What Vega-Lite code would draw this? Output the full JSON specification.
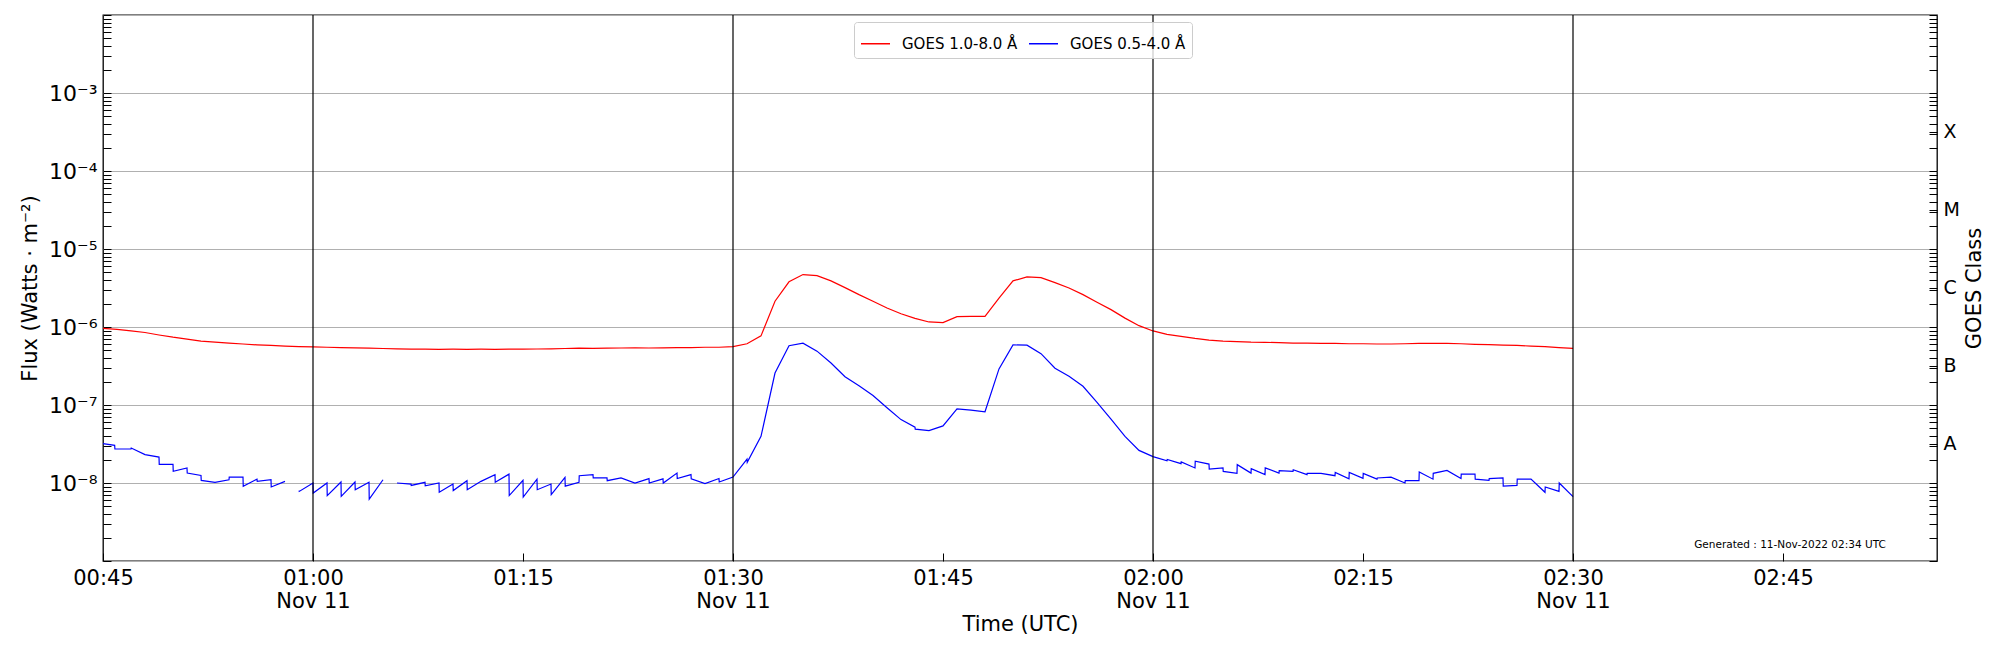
{
  "$schema": "https://vega.github.io/schema/vega-lite/v6.json",
  "width": 1834,
  "height": 546,
  "autosize": {"type": "none"},
  "padding": {"left": 103, "top": 15, "right": 63, "bottom": 89},
  "background": "white",
  "config": {
    "font": "DejaVu Sans",
    "view": {"stroke": "#000000", "strokeWidth": 1.3},
    "axis": {
      "domain": false,
      "grid": false,
      "tickColor": "#000000",
      "tickSize": -8,
      "tickWidth": 1,
      "labelPadding": 14,
      "labelColor": "#000000",
      "labelFont": "DejaVu Sans",
      "labelFontSize": 21,
      "titleColor": "#000000",
      "titleFont": "DejaVu Sans",
      "titleFontSize": 21,
      "titleFontWeight": "normal"
    }
  },
  "datasets": {
    "xrsb": [
      {"t": "00:45:00", "f": 9.6e-7}, {"t": "00:46:00", "f": 9.3e-7}, {"t": "00:47:00", "f": 8.9e-7},
      {"t": "00:48:00", "f": 8.5e-7}, {"t": "00:49:00", "f": 7.9e-7}, {"t": "00:50:00", "f": 7.4e-7},
      {"t": "00:51:00", "f": 7.0e-7}, {"t": "00:52:00", "f": 6.6e-7}, {"t": "00:53:00", "f": 6.4e-7},
      {"t": "00:54:00", "f": 6.2e-7}, {"t": "00:55:00", "f": 6.05e-7}, {"t": "00:56:00", "f": 5.9e-7},
      {"t": "00:57:00", "f": 5.8e-7}, {"t": "00:58:00", "f": 5.7e-7}, {"t": "00:59:00", "f": 5.6e-7},
      {"t": "01:00:00", "f": 5.55e-7}, {"t": "01:01:00", "f": 5.5e-7}, {"t": "01:02:00", "f": 5.45e-7},
      {"t": "01:03:00", "f": 5.4e-7}, {"t": "01:04:00", "f": 5.35e-7}, {"t": "01:05:00", "f": 5.3e-7},
      {"t": "01:06:00", "f": 5.25e-7}, {"t": "01:07:00", "f": 5.2e-7}, {"t": "01:08:00", "f": 5.2e-7},
      {"t": "01:09:00", "f": 5.18e-7}, {"t": "01:10:00", "f": 5.2e-7}, {"t": "01:11:00", "f": 5.18e-7},
      {"t": "01:12:00", "f": 5.2e-7}, {"t": "01:13:00", "f": 5.18e-7}, {"t": "01:14:00", "f": 5.2e-7},
      {"t": "01:15:00", "f": 5.2e-7}, {"t": "01:16:00", "f": 5.22e-7}, {"t": "01:17:00", "f": 5.25e-7},
      {"t": "01:18:00", "f": 5.3e-7}, {"t": "01:19:00", "f": 5.35e-7}, {"t": "01:20:00", "f": 5.33e-7},
      {"t": "01:21:00", "f": 5.35e-7}, {"t": "01:22:00", "f": 5.38e-7}, {"t": "01:23:00", "f": 5.4e-7},
      {"t": "01:24:00", "f": 5.38e-7}, {"t": "01:25:00", "f": 5.4e-7}, {"t": "01:26:00", "f": 5.43e-7},
      {"t": "01:27:00", "f": 5.45e-7}, {"t": "01:28:00", "f": 5.5e-7}, {"t": "01:29:00", "f": 5.5e-7},
      {"t": "01:30:00", "f": 5.6e-7}, {"t": "01:31:00", "f": 6.1e-7}, {"t": "01:32:00", "f": 7.7e-7},
      {"t": "01:33:00", "f": 2.14e-6}, {"t": "01:34:00", "f": 3.8e-6}, {"t": "01:35:00", "f": 4.7e-6},
      {"t": "01:36:00", "f": 4.55e-6}, {"t": "01:37:00", "f": 3.9e-6}, {"t": "01:38:00", "f": 3.2e-6},
      {"t": "01:39:00", "f": 2.6e-6}, {"t": "01:40:00", "f": 2.14e-6}, {"t": "01:41:00", "f": 1.75e-6},
      {"t": "01:42:00", "f": 1.48e-6}, {"t": "01:43:00", "f": 1.29e-6}, {"t": "01:44:00", "f": 1.16e-6},
      {"t": "01:45:00", "f": 1.14e-6}, {"t": "01:46:00", "f": 1.36e-6}, {"t": "01:47:00", "f": 1.37e-6},
      {"t": "01:48:00", "f": 1.37e-6}, {"t": "01:49:00", "f": 2.35e-6}, {"t": "01:50:00", "f": 3.9e-6},
      {"t": "01:51:00", "f": 4.4e-6}, {"t": "01:52:00", "f": 4.3e-6}, {"t": "01:53:00", "f": 3.7e-6},
      {"t": "01:54:00", "f": 3.16e-6}, {"t": "01:55:00", "f": 2.6e-6}, {"t": "01:56:00", "f": 2.08e-6},
      {"t": "01:57:00", "f": 1.67e-6}, {"t": "01:58:00", "f": 1.3e-6}, {"t": "01:59:00", "f": 1.04e-6},
      {"t": "02:00:00", "f": 8.9e-7}, {"t": "02:01:00", "f": 8.05e-7}, {"t": "02:02:00", "f": 7.6e-7},
      {"t": "02:03:00", "f": 7.15e-7}, {"t": "02:04:00", "f": 6.8e-7}, {"t": "02:05:00", "f": 6.6e-7},
      {"t": "02:06:00", "f": 6.5e-7}, {"t": "02:07:00", "f": 6.4e-7}, {"t": "02:08:00", "f": 6.36e-7},
      {"t": "02:09:00", "f": 6.3e-7}, {"t": "02:10:00", "f": 6.2e-7}, {"t": "02:11:00", "f": 6.2e-7},
      {"t": "02:12:00", "f": 6.17e-7}, {"t": "02:13:00", "f": 6.15e-7}, {"t": "02:14:00", "f": 6.1e-7},
      {"t": "02:15:00", "f": 6.1e-7}, {"t": "02:16:00", "f": 6.05e-7}, {"t": "02:17:00", "f": 6.05e-7},
      {"t": "02:18:00", "f": 6.1e-7}, {"t": "02:19:00", "f": 6.15e-7}, {"t": "02:20:00", "f": 6.17e-7},
      {"t": "02:21:00", "f": 6.15e-7}, {"t": "02:22:00", "f": 6.1e-7}, {"t": "02:23:00", "f": 6.0e-7},
      {"t": "02:24:00", "f": 5.94e-7}, {"t": "02:25:00", "f": 5.87e-7}, {"t": "02:26:00", "f": 5.8e-7},
      {"t": "02:27:00", "f": 5.7e-7}, {"t": "02:28:00", "f": 5.6e-7}, {"t": "02:29:00", "f": 5.45e-7},
      {"t": "02:30:00", "f": 5.33e-7}
    ],
    "xrsa": [
      {"t": "00:45:00", "f": 3.19e-8}, {"t": "00:45:50", "f": 3.04e-8}, {"t": "00:45:51", "f": 2.73e-8},
      {"t": "00:47:00", "f": 2.73e-8}, {"t": "00:47:01", "f": 2.81e-8}, {"t": "00:48:00", "f": 2.31e-8},
      {"t": "00:49:00", "f": 2.15e-8}, {"t": "00:49:01", "f": 1.73e-8}, {"t": "00:50:00", "f": 1.73e-8},
      {"t": "00:50:01", "f": 1.41e-8}, {"t": "00:51:00", "f": 1.56e-8}, {"t": "00:51:01", "f": 1.34e-8},
      {"t": "00:52:00", "f": 1.25e-8}, {"t": "00:52:01", "f": 1.08e-8}, {"t": "00:53:00", "f": 1.02e-8},
      {"t": "00:54:00", "f": 1.10e-8}, {"t": "00:54:01", "f": 1.19e-8}, {"t": "00:55:00", "f": 1.19e-8},
      {"t": "00:55:01", "f": 0.91e-8}, {"t": "00:56:00", "f": 1.12e-8}, {"t": "00:56:01", "f": 1.05e-8},
      {"t": "00:57:00", "f": 1.10e-8}, {"t": "00:57:01", "f": 0.89e-8}, {"t": "00:58:00", "f": 1.05e-8},
      {"t": "00:58:30", "f": null},
      {"t": "00:59:00", "f": 0.80e-8}, {"t": "00:59:01", "f": 0.78e-8}, {"t": "01:00:00", "f": 1.0e-8},
      {"t": "01:00:01", "f": 0.745e-8}, {"t": "01:01:00", "f": 1.0e-8}, {"t": "01:01:01", "f": 0.69e-8},
      {"t": "01:02:00", "f": 1.03e-8}, {"t": "01:02:01", "f": 0.675e-8}, {"t": "01:03:00", "f": 1.03e-8},
      {"t": "01:03:01", "f": 0.82e-8}, {"t": "01:04:00", "f": 1.02e-8}, {"t": "01:04:01", "f": 0.62e-8},
      {"t": "01:05:00", "f": 1.10e-8},
      {"t": "01:05:30", "f": null},
      {"t": "01:06:00", "f": 1.0e-8}, {"t": "01:07:00", "f": 0.97e-8}, {"t": "01:07:01", "f": 0.93e-8},
      {"t": "01:08:00", "f": 1.02e-8}, {"t": "01:08:01", "f": 0.92e-8}, {"t": "01:09:00", "f": 1.0e-8},
      {"t": "01:09:01", "f": 0.76e-8}, {"t": "01:10:00", "f": 0.97e-8}, {"t": "01:10:01", "f": 0.80e-8},
      {"t": "01:11:00", "f": 1.07e-8}, {"t": "01:11:01", "f": 0.82e-8}, {"t": "01:12:00", "f": 1.05e-8},
      {"t": "01:13:00", "f": 1.28e-8}, {"t": "01:13:01", "f": 1.02e-8}, {"t": "01:14:00", "f": 1.30e-8},
      {"t": "01:14:01", "f": 0.69e-8}, {"t": "01:15:00", "f": 1.08e-8}, {"t": "01:15:01", "f": 0.66e-8},
      {"t": "01:16:00", "f": 1.12e-8}, {"t": "01:16:01", "f": 0.82e-8}, {"t": "01:17:00", "f": 0.97e-8},
      {"t": "01:17:01", "f": 0.71e-8}, {"t": "01:18:00", "f": 1.18e-8}, {"t": "01:18:01", "f": 0.91e-8},
      {"t": "01:19:00", "f": 1.02e-8}, {"t": "01:19:01", "f": 1.24e-8}, {"t": "01:20:00", "f": 1.28e-8},
      {"t": "01:20:01", "f": 1.16e-8}, {"t": "01:21:00", "f": 1.16e-8}, {"t": "01:21:01", "f": 1.07e-8},
      {"t": "01:22:00", "f": 1.16e-8}, {"t": "01:23:00", "f": 1.0e-8}, {"t": "01:24:00", "f": 1.14e-8},
      {"t": "01:24:01", "f": 1.0e-8}, {"t": "01:25:00", "f": 1.13e-8}, {"t": "01:25:01", "f": 1.0e-8},
      {"t": "01:26:00", "f": 1.34e-8}, {"t": "01:26:01", "f": 1.14e-8}, {"t": "01:27:00", "f": 1.28e-8},
      {"t": "01:27:01", "f": 1.13e-8}, {"t": "01:28:00", "f": 0.98e-8}, {"t": "01:29:00", "f": 1.14e-8},
      {"t": "01:29:01", "f": 1.03e-8}, {"t": "01:30:00", "f": 1.19e-8}, {"t": "01:31:00", "f": 2.03e-8},
      {"t": "01:31:01", "f": 1.84e-8}, {"t": "01:32:00", "f": 3.96e-8}, {"t": "01:33:00", "f": 2.57e-7},
      {"t": "01:34:00", "f": 5.76e-7}, {"t": "01:35:00", "f": 6.2e-7}, {"t": "01:36:00", "f": 4.9e-7},
      {"t": "01:37:00", "f": 3.46e-7}, {"t": "01:38:00", "f": 2.3e-7}, {"t": "01:39:00", "f": 1.77e-7},
      {"t": "01:40:00", "f": 1.32e-7}, {"t": "01:41:00", "f": 9.2e-8}, {"t": "01:42:00", "f": 6.5e-8},
      {"t": "01:43:00", "f": 5.2e-8}, {"t": "01:43:01", "f": 4.9e-8}, {"t": "01:44:00", "f": 4.7e-8},
      {"t": "01:45:00", "f": 5.4e-8}, {"t": "01:46:00", "f": 8.9e-8}, {"t": "01:47:00", "f": 8.6e-8},
      {"t": "01:48:00", "f": 8.2e-8}, {"t": "01:49:00", "f": 2.9e-7}, {"t": "01:50:00", "f": 5.9e-7},
      {"t": "01:51:00", "f": 5.85e-7}, {"t": "01:52:00", "f": 4.55e-7}, {"t": "01:53:00", "f": 2.96e-7},
      {"t": "01:54:00", "f": 2.33e-7}, {"t": "01:55:00", "f": 1.74e-7}, {"t": "01:56:00", "f": 1.08e-7},
      {"t": "01:57:00", "f": 6.6e-8}, {"t": "01:58:00", "f": 3.96e-8}, {"t": "01:59:00", "f": 2.62e-8},
      {"t": "02:00:00", "f": 2.18e-8}, {"t": "02:01:00", "f": 1.93e-8}, {"t": "02:01:01", "f": 2.0e-8},
      {"t": "02:02:00", "f": 1.77e-8}, {"t": "02:02:01", "f": 1.86e-8}, {"t": "02:03:00", "f": 1.56e-8},
      {"t": "02:03:01", "f": 1.90e-8}, {"t": "02:04:00", "f": 1.75e-8}, {"t": "02:04:01", "f": 1.51e-8},
      {"t": "02:05:00", "f": 1.56e-8}, {"t": "02:05:01", "f": 1.41e-8}, {"t": "02:06:00", "f": 1.33e-8},
      {"t": "02:06:01", "f": 1.72e-8}, {"t": "02:07:00", "f": 1.34e-8}, {"t": "02:07:01", "f": 1.53e-8},
      {"t": "02:08:00", "f": 1.28e-8}, {"t": "02:08:01", "f": 1.56e-8}, {"t": "02:09:00", "f": 1.34e-8},
      {"t": "02:09:01", "f": 1.44e-8}, {"t": "02:10:00", "f": 1.41e-8}, {"t": "02:10:01", "f": 1.48e-8},
      {"t": "02:11:00", "f": 1.28e-8}, {"t": "02:11:01", "f": 1.33e-8}, {"t": "02:12:00", "f": 1.33e-8},
      {"t": "02:13:00", "f": 1.24e-8}, {"t": "02:13:01", "f": 1.37e-8}, {"t": "02:14:00", "f": 1.13e-8},
      {"t": "02:14:01", "f": 1.37e-8}, {"t": "02:15:00", "f": 1.15e-8}, {"t": "02:15:01", "f": 1.33e-8},
      {"t": "02:16:00", "f": 1.12e-8}, {"t": "02:16:01", "f": 1.16e-8}, {"t": "02:17:00", "f": 1.19e-8},
      {"t": "02:18:00", "f": 1.0e-8}, {"t": "02:18:01", "f": 1.07e-8}, {"t": "02:19:00", "f": 1.07e-8},
      {"t": "02:19:01", "f": 1.38e-8}, {"t": "02:20:00", "f": 1.12e-8}, {"t": "02:20:01", "f": 1.33e-8},
      {"t": "02:21:00", "f": 1.45e-8}, {"t": "02:22:00", "f": 1.14e-8}, {"t": "02:22:01", "f": 1.30e-8},
      {"t": "02:23:00", "f": 1.30e-8}, {"t": "02:23:01", "f": 1.12e-8}, {"t": "02:24:00", "f": 1.08e-8},
      {"t": "02:24:01", "f": 1.14e-8}, {"t": "02:25:00", "f": 1.16e-8}, {"t": "02:25:01", "f": 0.91e-8},
      {"t": "02:26:00", "f": 0.93e-8}, {"t": "02:26:01", "f": 1.12e-8}, {"t": "02:27:00", "f": 1.12e-8},
      {"t": "02:28:00", "f": 0.76e-8}, {"t": "02:28:01", "f": 0.89e-8}, {"t": "02:29:00", "f": 0.78e-8},
      {"t": "02:29:01", "f": 1.0e-8}, {"t": "02:30:00", "f": 0.67e-8}
    ],
    "vlines": [
      {"t": "01:00:00"}, {"t": "01:30:00"}, {"t": "02:00:00"}, {"t": "02:30:00"}
    ],
    "note": [
      {"label": "Generated : 11-Nov-2022 02:34 UTC"}
    ]
  },
  "layer": [
    {
      "data": {"name": "xrsb", "format": {"parse": {"t": "date:'%H:%M:%S'"}}},
      "mark": {"type": "line", "strokeWidth": 1.2, "invalid": "break-paths-show-domains"},
      "encoding": {
        "x": {
          "field": "t",
          "type": "temporal",
          "title": "Time (UTC)",
          "scale": {
            "domain": [
              {"year": 1900, "month": 1, "date": 1, "hours": 0, "minutes": 45},
              {"year": 1900, "month": 1, "date": 1, "hours": 2, "minutes": 56}
            ],
            "nice": false
          },
          "axis": {
            "orient": "bottom",
            "values": [
              {"year": 1900, "month": 1, "date": 1, "hours": 0, "minutes": 45},
              {"year": 1900, "month": 1, "date": 1, "hours": 1, "minutes": 0},
              {"year": 1900, "month": 1, "date": 1, "hours": 1, "minutes": 15},
              {"year": 1900, "month": 1, "date": 1, "hours": 1, "minutes": 30},
              {"year": 1900, "month": 1, "date": 1, "hours": 1, "minutes": 45},
              {"year": 1900, "month": 1, "date": 1, "hours": 2, "minutes": 0},
              {"year": 1900, "month": 1, "date": 1, "hours": 2, "minutes": 15},
              {"year": 1900, "month": 1, "date": 1, "hours": 2, "minutes": 30},
              {"year": 1900, "month": 1, "date": 1, "hours": 2, "minutes": 45}
            ],
            "labelExpr": "minutes(datum.value) % 30 == 0 ? [timeFormat(datum.value, '%H:%M'), 'Nov 11'] : timeFormat(datum.value, '%H:%M')",
            "labelLineHeight": 23,
            "labelFlush": false,
            "titlePadding": 2
          }
        },
        "y": {
          "field": "f",
          "type": "quantitative",
          "title": "Flux (Watts · m⁻²)",
          "scale": {"type": "log", "domain": [1e-9, 1e-2], "nice": false},
          "axis": {
            "orient": "left",
            "values": [
              1e-9, 2e-9, 3e-9, 4e-9, 5e-9, 6e-9, 7e-9, 8e-9, 9e-9,
              1e-8, 2e-8, 3e-8, 4e-8, 5e-8, 6e-8, 7e-8, 8e-8, 9e-8,
              1e-7, 2e-7, 3e-7, 4e-7, 5e-7, 6e-7, 7e-7, 8e-7, 9e-7,
              1e-6, 2e-6, 3e-6, 4e-6, 5e-6, 6e-6, 7e-6, 8e-6, 9e-6,
              1e-5, 2e-5, 3e-5, 4e-5, 5e-5, 6e-5, 7e-5, 8e-5, 9e-5,
              1e-4, 2e-4, 3e-4, 4e-4, 5e-4, 6e-4, 7e-4, 8e-4, 9e-4,
              1e-3, 2e-3, 3e-3, 4e-3, 5e-3, 6e-3, 7e-3, 8e-3, 9e-3,
              1e-2
            ],
            "labelExpr": "abs(log(datum.value) / LN10 - round(log(datum.value) / LN10)) < 0.001 && round(log(datum.value) / LN10) >= -8 && round(log(datum.value) / LN10) <= -3 ? '10⁻' + ['⁰','¹','²','³','⁴','⁵','⁶','⁷','⁸','⁹'][-round(log(datum.value) / LN10)] : ''",
            "labelFontSize": 22,
            "labelFlush": false,
            "grid": true,
            "gridColor": "#b0b0b0",
            "gridWidth": 1,
            "gridOpacity": {"condition": {"test": "abs(log(datum.value) / LN10 - round(log(datum.value) / LN10)) < 0.001", "value": 1}, "value": 0},
            "titlePadding": 8
          }
        },
        "color": {
          "datum": "GOES 1.0-8.0 Å",
          "type": "nominal",
          "scale": {"domain": ["GOES 1.0-8.0 Å", "GOES 0.5-4.0 Å"], "range": ["#ff0000", "#0000ff"]},
          "legend": {
            "title": null,
            "orient": "none",
            "legendX": 751,
            "legendY": 7,
            "direction": "horizontal",
            "symbolType": "stroke",
            "symbolSize": 841,
            "symbolStrokeWidth": 1.5,
            "labelFontSize": 15,
            "labelFont": "DejaVu Sans",
            "labelColor": "#000000",
            "labelOffset": 11,
            "columnPadding": 8,
            "padding": 6,
            "fillColor": "rgba(255,255,255,0.8)",
            "strokeColor": "#cccccc",
            "cornerRadius": 3
          }
        }
      }
    },
    {
      "data": {"name": "xrsa", "format": {"parse": {"t": "date:'%H:%M:%S'"}}},
      "mark": {"type": "line", "strokeWidth": 1.2, "invalid": "break-paths-show-domains"},
      "encoding": {
        "x": {"field": "t", "type": "temporal", "title": "Time (UTC)"},
        "y": {"field": "f", "type": "quantitative", "axis": null, "scale": {"type": "log", "domain": [1e-9, 1e-2], "nice": false}},
        "color": {"datum": "GOES 0.5-4.0 Å", "type": "nominal"}
      }
    },
    {
      "data": {"name": "vlines", "format": {"parse": {"t": "date:'%H:%M:%S'"}}},
      "mark": {"type": "rule", "color": "#000000", "strokeWidth": 1.2},
      "encoding": {
        "x": {"field": "t", "type": "temporal", "title": "Time (UTC)"}
      }
    },
    {
      "data": {"name": "note"},
      "mark": {"type": "text", "fontSize": 10.5, "font": "DejaVu Sans", "align": "center", "baseline": "middle", "color": "#000000"},
      "encoding": {
        "x": {"datum": {"year": 1900, "month": 1, "date": 1, "hours": 2, "minutes": 45, "seconds": 30}, "type": "temporal", "title": "Time (UTC)"},
        "y": {
          "datum": 1.6e-9,
          "type": "quantitative",
          "scale": {"type": "log", "domain": [1e-9, 1e-2], "nice": false},
          "axis": {
            "orient": "right",
            "title": "GOES Class",
            "values": [
              1e-9, 2e-9, 3e-9, 4e-9, 5e-9, 6e-9, 7e-9, 8e-9, 9e-9,
              1e-8, 2e-8, 3e-8, 3.1623e-8, 4e-8, 5e-8, 6e-8, 7e-8, 8e-8, 9e-8,
              1e-7, 2e-7, 3e-7, 3.1623e-7, 4e-7, 5e-7, 6e-7, 7e-7, 8e-7, 9e-7,
              1e-6, 2e-6, 3e-6, 3.1623e-6, 4e-6, 5e-6, 6e-6, 7e-6, 8e-6, 9e-6,
              1e-5, 2e-5, 3e-5, 3.1623e-5, 4e-5, 5e-5, 6e-5, 7e-5, 8e-5, 9e-5,
              1e-4, 2e-4, 3e-4, 3.1623e-4, 4e-4, 5e-4, 6e-4, 7e-4, 8e-4, 9e-4,
              1e-3, 2e-3, 3e-3, 4e-3, 5e-3, 6e-3, 7e-3, 8e-3, 9e-3,
              1e-2
            ],
            "labelExpr": "abs(log(datum.value) / LN10 % 1 + 0.5) < 0.001 ? ['A','B','C','M','X'][round(log(datum.value) / LN10 + 7.5)] : ''",
            "labelFontSize": 19,
            "labelFlush": false,
            "grid": false,
            "titleAngle": 270,
            "titleBaseline": "top",
            "titlePadding": 4
          }
        },
        "text": {"field": "label"}
      }
    }
  ],
  "resolve": {"axis": {"y": "independent"}}
}
